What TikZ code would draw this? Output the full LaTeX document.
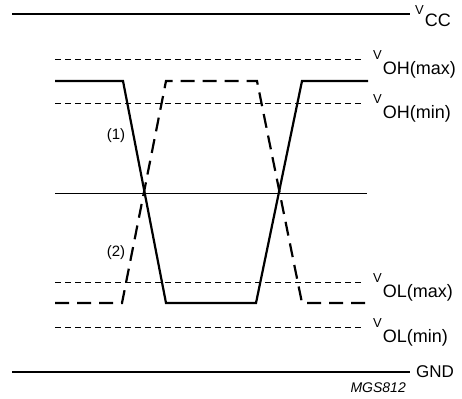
\documentclass[tikz,border=0pt]{standalone}
\usepackage{fontspec}
\setmainfont{Liberation Sans}
\begin{document}
\begin{tikzpicture}[x=1pt,y=-1pt,
  rail/.style={line width=1.3pt},
  thr/.style={line width=1pt, dash pattern=on 6pt off 4pt},
  wsolid/.style={line width=2.2pt, line join=miter},
  wdash/.style={line width=2.2pt, dash pattern=on 14pt off 8pt},
  mid/.style={line width=1pt},
  vch/.style={anchor=base west, inner sep=0pt, font=\fontsize{13}{15}\selectfont},
  sub/.style={anchor=base west, inner sep=0pt, font=\fontsize{18}{22}\selectfont},
  num/.style={inner sep=0pt, font=\fontsize{15}{18}\selectfont}]
\useasboundingbox (0,0) rectangle (462,398);
% rails
\draw[rail] (12,14) -- (410,14);
\draw[rail] (12,372) -- (410,372);
\node[vch] (vccV) at (415,15) {V};
\node[sub, yshift=-11.5pt, xshift=0.5pt] (vcc) at (vccV.base east) {CC};
\node[sub, font=\fontsize{17}{21}\selectfont] (gnd) at (416,377) {GND};
% thresholds
\draw[thr] (55,60) -- (363,60);
\draw[thr] (55,104) -- (363,104);
\draw[thr] (55,282) -- (363,282);
\draw[thr] (55,327) -- (363,327);
\node[vch] (ohmaxV) at (373,60) {V};
\node[sub, yshift=-15pt, xshift=0.5pt] (ohmax) at (ohmaxV.base east) {OH(max)};
\node[vch] (ohminV) at (373,104) {V};
\node[sub, yshift=-15pt, xshift=0.5pt] (ohmin) at (ohminV.base east) {OH(min)};
\node[vch] (olmaxV) at (373,282) {V};
\node[sub, yshift=-15pt, xshift=0.5pt] (olmax) at (olmaxV.base east) {OL(max)};
\node[vch] (olminV) at (373,327) {V};
\node[sub, yshift=-15pt, xshift=0.5pt] (olmin) at (olminV.base east) {OL(min)};
% middle line
\draw[mid] (55,193) -- (367,193);
% solid waveform
\draw[wsolid] (55,81) -- (123,81) -- (166,303) -- (256,303) -- (302,81) -- (368,81);
% dashed waveform
\draw[wdash] (55,303) -- (122,303) -- (166,81) -- (257,81) -- (302,303) -- (367,303);
% labels
\node[num] (l1) at (116,136) {(1)};
\node[num] (l2) at (116,253) {(2)};
\node[anchor=base east, inner sep=0pt, font=\fontsize{14}{16}\selectfont\itshape] (mgs) at (406,392) {MGS812};
\end{tikzpicture}
\end{document}
